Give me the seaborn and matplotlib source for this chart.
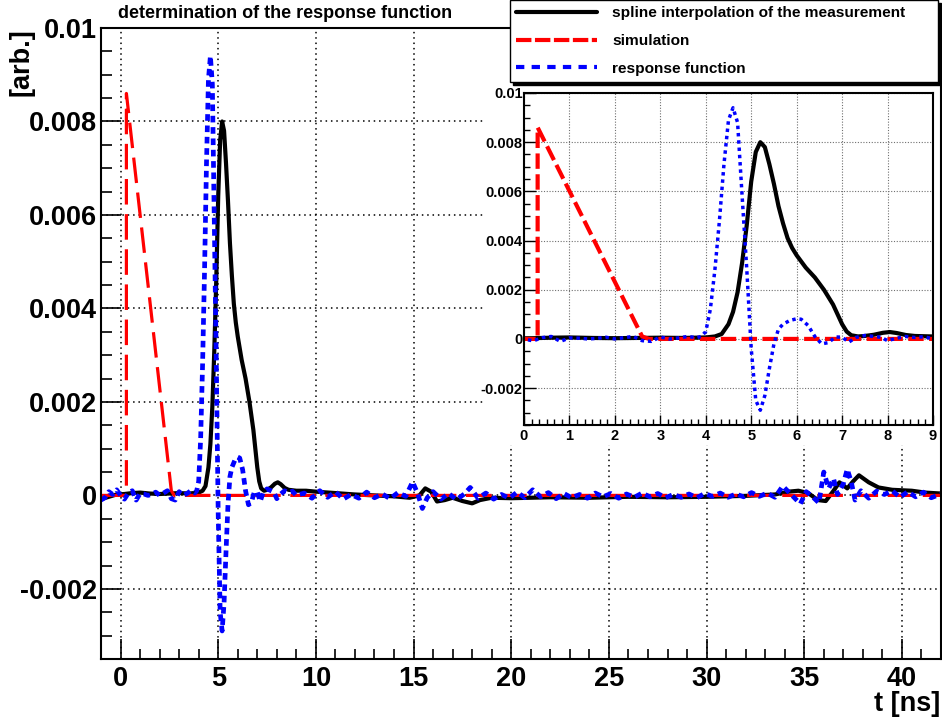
import numpy as np
import pandas as pd
import matplotlib
matplotlib.use('Agg')
import matplotlib.pyplot as plt
from matplotlib.ticker import MultipleLocator
from matplotlib.lines import Line2D
import seaborn as sns

# spline interpolation of the measurement
black_t = [-1.0, -0.6, -0.2, 0.2, 0.6, 1.0, 1.5, 2.0, 2.5, 3.0, 3.5, 4.0, 4.2, 4.35, 4.5, 4.6, 4.7, 4.8, 4.9,
           5.0, 5.1, 5.2, 5.3, 5.4, 5.5, 5.6, 5.7, 5.8, 5.9, 6.0, 6.2, 6.4, 6.6, 6.8, 6.9, 7.0, 7.1, 7.2, 7.35,
           7.5, 7.7, 7.9, 8.05, 8.2, 8.4, 8.6, 9.0, 9.5, 10.0, 11.0, 12.0, 13.0, 14.0, 14.8, 15.3, 15.6, 15.9,
           16.2, 16.6, 17.0, 17.5, 18.0, 18.4, 19.0, 20.0, 22.0, 24.0, 26.0, 28.0, 30.0, 32.0, 33.5, 34.2, 34.7,
           35.2, 35.7, 36.1, 36.5, 36.8, 37.2, 37.5, 37.8, 38.3, 38.8, 39.5, 40.5, 41.2, 42.0]
black_v = [-0.00008, -0.00003, 0.00002, 0.00003, 0.00005, 0.00006, 0.00004, 0.00003, 0.00004, 0.00005, 0.00004,
           0.00006, 0.0001, 0.0002, 0.0006, 0.0011, 0.0019, 0.0031, 0.0046, 0.0064, 0.0076, 0.0080, 0.0078,
           0.0071, 0.0063, 0.0054, 0.0047, 0.0041, 0.0037, 0.0034, 0.0029, 0.0025, 0.0020, 0.0014, 0.0010,
           0.0006, 0.0003, 0.00015, 0.0001, 0.00012, 0.00017, 0.00025, 0.00028, 0.00024, 0.00016, 0.00012,
           0.0001, 0.0001, 0.00008, 0.00005, 0.00002, 0.0, -0.00002, -0.00005, 0.0, 0.00015, 0.00008, -0.00013,
           -0.0001, -0.00005, -0.00012, -0.00017, -0.0001, -0.00005, -0.00006, -0.00004, -0.00005, -0.00003,
           -0.00004, -0.00003, -0.00001, 0.00002, 0.00008, 0.0001, 0.00005, -0.0001, -0.00012, 0.0001, 0.00028,
           0.00015, 0.0003, 0.00043, 0.00028, 0.00017, 0.00012, 0.0001, 0.00006, 0.00004]

# simulation
red_t = [-1.0, 0.3, 0.3, 2.6, 2.75, 42.0]
red_v = [0.0, 0.0, 0.0086, 0.0001, 0.0, 0.0]

# response function
blue_t = [-1.0, -0.8, -0.6, -0.4, -0.2, 0.0, 0.2, 0.4, 0.6, 0.8, 1.0, 1.2, 1.4, 1.6, 1.8, 2.0, 2.2, 2.4, 2.6,
          2.8, 3.0, 3.2, 3.4, 3.6, 3.8,
          3.9, 4.0, 4.1, 4.2, 4.3, 4.4, 4.5, 4.6, 4.7, 4.8, 4.9, 5.0, 5.1, 5.2, 5.3, 5.4, 5.5, 5.6, 5.7, 5.85,
          6.0, 6.1, 6.25, 6.4, 6.55, 6.7, 6.85, 7.0, 7.15, 7.3, 7.5, 7.7, 7.85, 8.0, 8.2, 8.4, 8.6, 8.8, 9.0,
          9.4, 9.8, 10.2, 10.6, 11.0, 11.4, 11.8, 12.2, 12.6, 13.0, 13.4, 13.8, 14.2, 14.6, 14.95, 15.2, 15.45,
          15.7, 16.0, 16.4, 16.8, 17.2, 17.6, 17.9, 18.3, 18.7, 19.1, 19.5, 19.9, 20.3, 20.7, 21.1, 21.5, 21.9,
          22.3, 22.7, 23.1, 23.5, 23.9, 24.3, 24.7, 25.1, 25.5, 25.9, 26.3, 26.7, 27.1, 27.5, 27.9, 28.3, 28.7,
          29.1, 29.5, 29.9, 30.3, 30.7, 31.1, 31.5, 31.9, 32.3, 32.7, 33.1, 33.5, 33.9, 34.3, 34.8, 35.1, 35.4,
          35.75, 36.0, 36.25, 36.5, 36.7, 37.0, 37.2, 37.4, 37.6, 37.9, 38.3, 38.7, 39.1, 39.5, 39.9, 40.3,
          40.7, 41.1, 41.5, 42.0]
blue_v = [-0.0001, -0.00005, 0.00008, 0.00002, 0.00012, 0.0, -0.00008, 0.00005, 0.0001, -0.0001, 0.00004,
          0.00003, 0.0, 0.00002, 0.00007, 0.0, 0.00005, 0.0001, -0.00007, -0.0001, 0.00008, 0.0, 0.00004,
          0.0001, 0.00005,
          0.0001, 0.0003, 0.0012, 0.0028, 0.0048, 0.0071, 0.0089, 0.0094, 0.0088, 0.0058, 0.0029, -0.0004,
          -0.0025, -0.0029, -0.0023, -0.0012, -0.0002, 0.0004, 0.0006, 0.00075, 0.00082, 0.0008, 0.00055,
          0.0001, -0.0002, -0.00015, 0.00008, 0.00007, -0.00013, 0.00006, 0.00014, 0.0001, 0.00007, -0.00007,
          0.00003, 0.0001, 0.00006, 0.00009, 0.0,
          0.00005, -0.00006, 0.0001, -0.00004, 0.00008, -0.00008, 0.00002, -0.00006, 0.00007, -0.00005,
          0.00003, -0.00007, 0.00006, -0.00002, 0.00029, 0.00005, -0.00028, -0.00005, 0.00008, -0.00008,
          0.00004, -0.00009, 0.00003, 0.00017, -0.00006, 0.00005, -0.00008, 0.00002, -0.00006, 0.00007,
          -0.00005, 0.00012, -0.00003, 0.00006, -0.00007, 0.00004, -0.00005, 0.00002, -0.00006, 0.00005,
          -0.00003, 0.00004, -0.00006, 0.00003, -0.00004, 0.00005, -0.00003, 0.00004, -0.00005, 0.00002,
          -0.00004, 0.00003, -0.00005, 0.00004, -0.00002, 0.00005, -0.00004, 0.00003, -0.00003, 0.00006,
          -0.00002, 0.00005, -0.00004, 0.0002, 0.00003, -0.00018, 0.00008, -0.00002, -0.00016, 0.0005,
          0.00015, 0.00036, 0.00002, 0.00025, 0.00056, 0.0003, -0.0001, 0.0001, -0.00006, 0.00009, 0.00002,
          0.0001, -0.00004, 0.00008, -0.00003, 0.00007, -0.00005, 0.00003]

labels = ['spline interpolation of the measurement', 'simulation', 'response function']

y_ticks = [-0.002, 0.0, 0.002, 0.004, 0.006, 0.008, 0.01]
y_ticklabels = ['-0.002', '0', '0.002', '0.004', '0.006', '0.008', '0.01']
main_x_ticks = [0, 5, 10, 15, 20, 25, 30, 35, 40]
inset_x_ticks = [0, 1, 2, 3, 4, 5, 6, 7, 8, 9]

sns.set_theme(style='white')
plt.rcParams['font.family'] = ['Liberation Sans', 'DejaVu Sans']
plt.rcParams['font.weight'] = 'bold'
plt.rcParams['text.color'] = 'black'
plt.rcParams['axes.labelcolor'] = 'black'
plt.rcParams['xtick.color'] = 'black'
plt.rcParams['ytick.color'] = 'black'

W, H = 942, 722
fig = plt.figure(figsize=(W / 100, H / 100), dpi=100)
fig.patch.set_facecolor('white')


def rect(x0, y0, x1, y1):
    return [x0 / W, 1 - y1 / H, (x1 - x0) / W, (y1 - y0) / H]


ax = fig.add_axes(rect(101, 28, 941, 659))
bg = fig.add_axes(rect(485, 83, 938, 445))
bg.set_axis_off()
bg.add_patch(plt.Rectangle((0, 0), 1, 1, transform=bg.transAxes, facecolor='white', edgecolor='none'))
ins = fig.add_axes(rect(524, 93, 933, 425))

df_black = pd.DataFrame({'t': black_t, 'v': black_v})
df_red = pd.DataFrame({'t': red_t, 'v': red_v})
df_blue = pd.DataFrame({'t': blue_t, 'v': blue_v})


def draw(a, scale):
    if scale == 'main':
        red_ls, blue_ls, red_lw, blue_lw = (0, (8, 3)), (0, (1.4, 1.0)), 2.3, 3.4
    else:
        red_ls, blue_ls, red_lw, blue_lw = (0, (3.7, 1.3)), (0, (1, 1.1)), 3.0, 2.5
    sns.lineplot(data=df_black, x='t', y='v', ax=a, estimator=None, sort=False, color='black',
                 linewidth=3.0, label=labels[0])
    sns.lineplot(data=df_red, x='t', y='v', ax=a, estimator=None, sort=False, color='#ff0000',
                 linewidth=red_lw, linestyle=red_ls, label=labels[1])
    sns.lineplot(data=df_blue, x='t', y='v', ax=a, estimator=None, sort=False, color='#0000ff',
                 linewidth=blue_lw, linestyle=blue_ls, label=labels[2])
    a.set_xlabel('')
    a.set_ylabel('')
    a.set_ylim(-0.0035, 0.01)
    a.set_yticks(y_ticks)
    a.set_yticklabels(y_ticklabels)
    a.yaxis.set_minor_locator(MultipleLocator(0.0005))
    for s in a.spines.values():
        s.set_color('black')
        s.set_linewidth(1.5)
        s.set_visible(True)


draw(ax, 'main')
ax.get_legend().remove()
ax.set_xlim(-1, 42)
ax.set_xticks(main_x_ticks)
ax.xaxis.set_minor_locator(MultipleLocator(1))
ax.tick_params(axis='both', which='both', direction='in', colors='black', bottom=True, left=True,
               top=False, right=False)
ax.tick_params(axis='y', which='major', length=14.4, width=1.2, labelsize=19.5, pad=3)
ax.tick_params(axis='y', which='minor', length=8, width=1.2)
ax.tick_params(axis='x', which='major', length=14.4, width=1.2, labelsize=19.5, pad=5)
ax.tick_params(axis='x', which='minor', length=7.2, width=1.2)
ax.grid(True, which='major', color='black', linestyle=(0, (1, 2.5)), linewidth=1.1)

draw(ins, 'inset')
ins.get_legend().remove()
ins.set_xlim(0, 9)
ins.set_xticks(inset_x_ticks)
ins.xaxis.set_minor_locator(MultipleLocator(1 / 6))
ins.tick_params(axis='both', which='both', direction='in', colors='black', bottom=True, left=True,
                top=False, right=False)
ins.tick_params(axis='y', which='major', length=8.6, width=1, labelsize=10.5, pad=1)
ins.tick_params(axis='y', which='minor', length=4.3, width=1)
ins.tick_params(axis='x', which='major', length=7.2, width=1, labelsize=10.5, pad=3)
ins.tick_params(axis='x', which='minor', length=4.3, width=1)
ins.grid(True, which='major', color='#707070', linestyle=(0, (1, 1.5)), linewidth=0.8)

for lab in ax.get_xticklabels() + ax.get_yticklabels() + ins.get_xticklabels() + ins.get_yticklabels():
    lab.set_fontweight('bold')

# legend handles drawn with the legend's own dash patterns
handles = [Line2D([], [], color='black', linewidth=3.0),
           Line2D([], [], color='#ff0000', linewidth=3.0, linestyle=(0, (3.7, 0.85))),
           Line2D([], [], color='#0000ff', linewidth=3.0, linestyle=(0, (2.0, 1.75)))]
leg = fig.legend(handles, labels, loc='upper left', bbox_to_anchor=(510 / W, 1.0, 428 / W, 0.0),
                 mode='expand', borderaxespad=0, fontsize=11.1, handlelength=5.2, handletextpad=1.0,
                 labelspacing=0.88, borderpad=0.42, frameon=True, fancybox=False, framealpha=1,
                 edgecolor='black', shadow={'color': 'black', 'alpha': 1})
leg.get_frame().set_linewidth(1.0)
for t in leg.get_texts():
    t.set_fontweight('bold')

fig.text(118 / W, 1 - 18 / H, 'determination of the response function', fontsize=13, fontweight='bold',
         ha='left', va='baseline', color='black')
fig.text(22 / W, 1 - 28 / H, '[arb.]', rotation=90, fontsize=19.5, fontweight='bold', ha='center',
         va='top', color='black')
fig.text(940 / W, 1 - 717 / H, 't [ns]', fontsize=19.5, fontweight='bold', ha='right', va='bottom',
         color='black')

fig.savefig('out.png', dpi=100, facecolor='white')
